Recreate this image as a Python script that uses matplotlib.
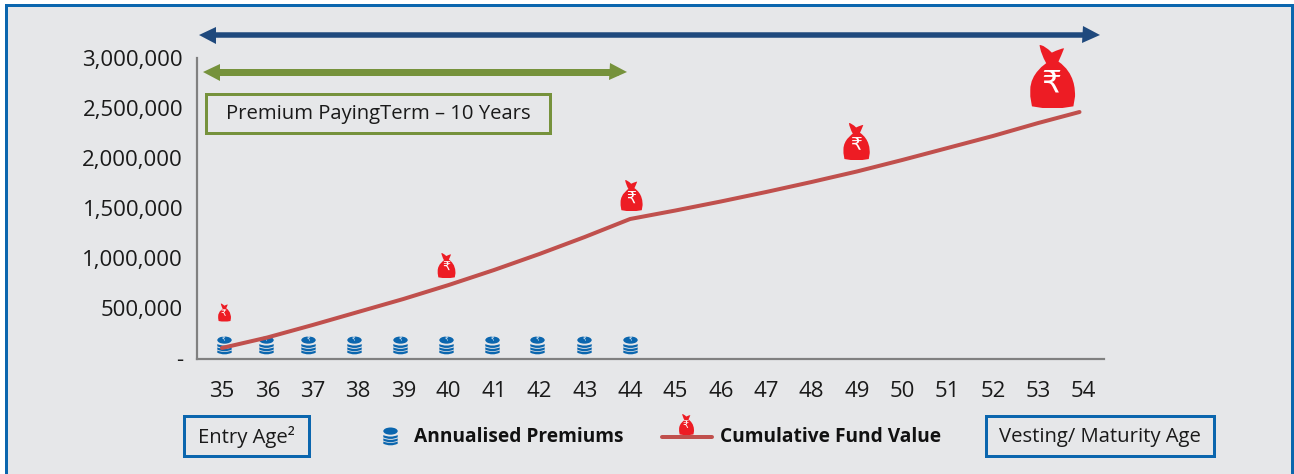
#!/usr/bin/env python3

import matplotlib
matplotlib.use("Agg")
import matplotlib.pyplot as plt
from matplotlib.patches import Rectangle
from matplotlib.path import Path
from matplotlib.transforms import Affine2D

plt.rcParams['font.family'] = ['Open Sans', 'DejaVu Sans']

ages = list(range(35, 55))
line_ages = list(range(35, 54)) + [53.91]
fund_value = [100000, 205000, 330000, 460000, 590000, 730000, 880000, 1040000, 1210000, 1390000,
              1475000, 1565000, 1660000, 1760000, 1865000, 1980000, 2100000, 2220000, 2350000, 2460000]
premium_ages = [35.04, 35.97, 36.9, 37.91, 38.93, 39.94, 40.96, 41.95, 42.99, 44.0]
premium_level = [130000] * 10
bag_ages = [35.04, 39.94, 44.02, 48.98, 53.3]
bag_values = [465000, 935000, 1630000, 2175000, 2820000]
bag_heights = [18, 25, 31, 37, 63]  # pixels
y_ticks = [0, 500000, 1000000, 1500000, 2000000, 2500000, 3000000]
y_labels = ['-', '500,000', '1,000,000', '1,500,000', '2,000,000', '2,500,000', '3,000,000']

W, H = 1294, 474
BG = '#E6E7E9'
BLUE = '#0B66AE'
NAVY = '#1F497D'
GREEN = '#76923C'
RED_LINE = '#C0504D'
BAG_RED = '#ED1C24'
TEXT = '#1A1A1A'
PX = 0.72  # points per pixel at dpi 100


def bag_marker():
    verts = [(18, 45), (26, 62), (35, 85), (25, 85), (-2, 72), (-25, 95), (-39, 95), (-36, 70), (-19, 40),
             (-19, 40), (-67, 10), (-67, -40), (-67, -60), (-62, -90),
             (-30, -95), (0, -95), (30, -95), (63, -90), (68, -60),
             (68, -40), (68, 10), (18, 45)]
    codes = [Path.MOVETO, Path.CURVE3, Path.CURVE3, Path.CURVE3, Path.CURVE3,
             Path.CURVE3, Path.CURVE3, Path.CURVE3, Path.CURVE3,
             Path.CURVE4, Path.CURVE4, Path.CURVE4, Path.LINETO, Path.LINETO,
             Path.LINETO, Path.LINETO, Path.LINETO, Path.LINETO, Path.LINETO,
             Path.CURVE4, Path.CURVE4, Path.CURVE4]
    return Path(verts, codes)


def coin_marker():
    # one path unit is one pixel once ms is 21.2 px
    parts = [Path.unit_circle().transformed(Affine2D().scale(7.2, 3.6).translate(0, 5.4))]
    for top in [1.4, -1.9, -5.0]:
        parts.append(Path([(-7.2, top), (0, top - 3.0), (7.2, top), (7.2, top - 2.2), (0, top - 5.6),
                           (-7.2, top - 2.2), (-7.2, top)],
                          [Path.MOVETO, Path.CURVE3, Path.CURVE3, Path.LINETO, Path.CURVE3,
                           Path.CURVE3, Path.CLOSEPOLY]))
    return Path.make_compound_path(*parts)


BAG = bag_marker()
COIN = coin_marker()

fig = plt.figure(figsize=(W / 100, H / 100), dpi=100, facecolor='white')
fig.patches.append(Rectangle((6 / W, -0.05), (1292 - 6) / W, 1.05 - 5.5 / H, transform=fig.transFigure,
                             facecolor=BG, edgecolor=BLUE, linewidth=3 * PX, zorder=-1))

ax = fig.add_axes([197 / W, 1 - 359 / H, (1104 - 197) / W, (359 - 58) / H])
ax.patch.set_alpha(0)
ax.set_xlim(34.45, 54.45)
ax.set_ylim(-10000, 3000000)
for side in ['top', 'right']:
    ax.spines[side].set_visible(False)
for side in ['left', 'bottom']:
    ax.spines[side].set_color('#808080')
    ax.spines[side].set_linewidth(2.2 * PX)
ax.set_xticks(ages)
ax.set_yticks(y_ticks)
ax.set_yticklabels(y_labels)
ax.tick_params(length=0, labelcolor=TEXT)
ax.tick_params(axis='x', pad=15.5, labelsize=16)
ax.tick_params(axis='y', pad=10, labelsize=16)

ax.plot(premium_ages, premium_level, linestyle='none', marker=COIN, ms=21.2 * PX, color=BLUE, mew=0,
        clip_on=False, zorder=3)
for x, y in zip(premium_ages, premium_level):
    ax.annotate('₹', (x, y), xytext=(0, 4), textcoords='offset points', color='white', fontsize=4,
                ha='center', va='center', family='DejaVu Sans', zorder=3.2)
ax.plot(line_ages, fund_value, color=RED_LINE, lw=4 * PX, solid_capstyle='round', zorder=4)

for x, y, h in zip(bag_ages, bag_values, bag_heights):
    ax.plot([x], [y], linestyle='none', marker=BAG, ms=h * PX, color=BAG_RED, mew=0, clip_on=False, zorder=5)
    ax.annotate('₹', (x, y), xytext=(0, -h * 0.13 * PX), textcoords='offset points', color='white',
                fontsize=h * 0.36, ha='center', va='center', family='DejaVu Sans', zorder=6)


def double_arrow(x0, x1, y, color, thick, head):
    ax.plot([x0, x1], [y, y], color=color, lw=thick * PX, solid_capstyle='butt', clip_on=False, zorder=2)
    ax.plot([x0], [y], linestyle='none', marker='<', color=color, ms=head * PX, mew=0, clip_on=False, zorder=2)
    ax.plot([x1], [y], linestyle='none', marker='>', color=color, ms=head * PX, mew=0, clip_on=False, zorder=2)


double_arrow(34.66, 54.16, 3230000, NAVY, 5.5, 17)
double_arrow(34.76, 43.73, 2860000, GREEN, 7, 17)


def boxed(x0, x1, y0, y1, color, label, size):
    fig.patches.append(Rectangle((x0 / W, 1 - y1 / H), (x1 - x0) / W, (y1 - y0) / H,
                                 transform=fig.transFigure, facecolor='none', edgecolor=color,
                                 linewidth=3 * PX, zorder=-0.5))
    fig.text((x0 + x1) / 2 / W, 1 - ((y0 + y1) / 2 + 1) / H, label, color=TEXT, fontsize=size,
             ha='center', va='center')


boxed(206, 550, 94, 133, GREEN, 'Premium PayingTerm – 10 Years', 14.6)
boxed(184, 309, 416, 456, BLUE, 'Entry Age²', 14.6)
boxed(986, 1214, 416, 456, BLUE, 'Vesting/ Maturity Age', 14.6)

# legend, drawn by hand with the same markers
leg = fig.add_axes([0, 0, 1, 1])
leg.patch.set_alpha(0)
leg.set_xlim(0, W)
leg.set_ylim(H, 0)
leg.axis('off')
leg.plot([390], [436], linestyle='none', marker=COIN, ms=21.2 * PX, color=BLUE, mew=0)
leg.plot([662, 712], [437, 437], color=RED_LINE, lw=4 * PX, solid_capstyle='round')
leg.plot([686], [424], linestyle='none', marker=BAG, ms=21 * PX, color=BAG_RED, mew=0)
leg.text(686, 425.5, '₹', color='white', fontsize=7, ha='center', va='center', family='DejaVu Sans')
leg.text(414, 437.5, 'Annualised Premiums', color='#111111', fontsize=13.8, fontweight='bold', va='center')
leg.text(720, 437.5, 'Cumulative Fund Value', color='#111111', fontsize=13.8, fontweight='bold', va='center')

fig.savefig('out.png', dpi=100, facecolor='white')
